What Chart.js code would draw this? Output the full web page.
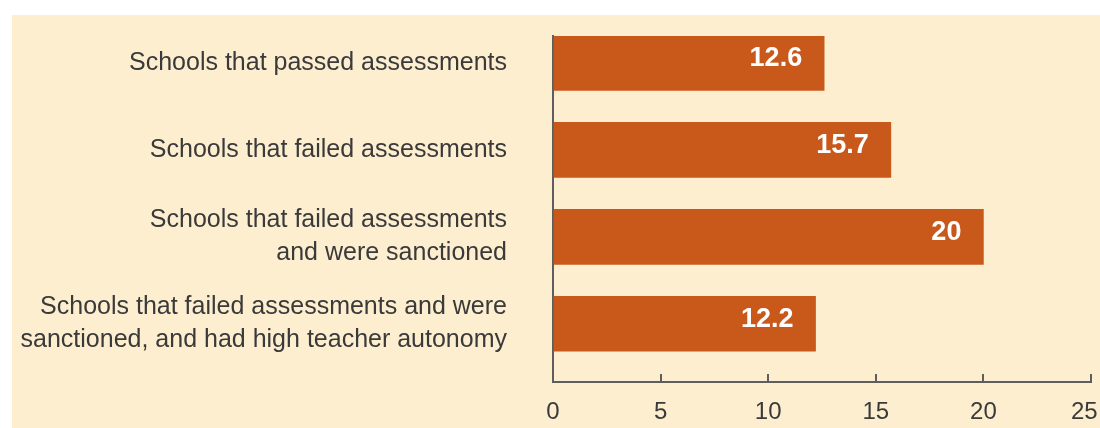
<!DOCTYPE html>
<html>
<head>
<meta charset="utf-8">
<script src="https://cdn.jsdelivr.net/npm/chart.js@4"></script>
<style>
  html, body { margin: 0; padding: 0; background: #ffffff; }
  #wrap { position: absolute; left: 12px; top: 15px; width: 1088px; height: 413px; background: #fdeed0; }
</style>
</head>
<body>
<div id="wrap"><canvas id="bars_chart"></canvas></div>
<script>
var categories = [
    ["Schools that passed assessments"],
    ["Schools that failed assessments"],
    ["Schools that failed assessments", "and were sanctioned"],
    ["Schools that failed assessments and were", "sanctioned, and had high teacher autonomy"]
];
var values = [12.6, 15.7, 20, 12.2];
var valueLabels = ["12.6", "15.7", "20", "12.2"];
var xTicks = [0, 5, 10, 15, 20, 25];

Chart.defaults.font.family = "'Liberation Sans', Arial, sans-serif";
Chart.defaults.color = '#3a3a3a';

// white numbers at the end of each bar
var barValues = {
    id: 'barValues',
    afterDatasetsDraw: function (chart) {
        var ctx = chart.ctx;
        var meta = chart.getDatasetMeta(0);
        ctx.save();
        ctx.fillStyle = '#ffffff';
        ctx.font = "bold 27px 'Liberation Sans', Arial, sans-serif";
        ctx.textAlign = 'right';
        ctx.textBaseline = 'middle';
        meta.data.forEach(function (bar, i) {
            ctx.fillText(valueLabels[i], bar.x - 22, bar.y - 4);
        });
        ctx.restore();
    }
};

var ctx = document.getElementById('bars_chart').getContext('2d');
var barsChart = new Chart(ctx, {
    type: 'bar',
    data: {
        datasets: [{
            data: values.map(function (v, i) { return { x: v, y: i }; }),
            backgroundColor: '#c8591b',
            borderWidth: 0,
            barThickness: 55
        }]
    },
    plugins: [barValues],
    options: {
        indexAxis: 'y',
        responsive: true,
        maintainAspectRatio: false,
        animation: false,
        events: [],
        plugins: {
            legend: { display: false },
            tooltip: { enabled: false },
            title: { display: false }
        },
        layout: {
            padding: { top: 21, right: 9, left: 0, bottom: 0 }
        },
        scales: {
            x: {
                type: 'linear',
                min: 0,
                max: 25,
                afterBuildTicks: function (scale) {
                    scale.ticks = xTicks.map(function (v) { return { value: v }; });
                },
                afterFit: function (scale) {
                    scale.height = 46;
                    scale.paddingLeft = 0;
                    scale.paddingRight = 0;
                },
                border: { display: true, color: '#5e5e5e', width: 2 },
                grid: {
                    display: true,
                    drawOnChartArea: false,
                    drawTicks: true,
                    tickLength: -8,
                    color: '#5e5e5e',
                    lineWidth: 2
                },
                ticks: {
                    font: { size: 24 },
                    color: '#3a3a3a',
                    padding: 24,
                    maxRotation: 0,
                    // last label sits a little inside the right edge
                    callback: function (v) { return v === 25 ? '25  ' : String(v); }
                }
            },
            y: {
                type: 'linear',
                reverse: true,
                offset: false,
                min: -0.31,
                max: 3.67,
                afterBuildTicks: function (scale) {
                    scale.ticks = categories.map(function (c, i) { return { value: i }; });
                },
                afterFit: function (scale) {
                    scale.width = 541;
                    scale.paddingTop = 0;
                    scale.paddingBottom = 0;
                },
                border: { display: true, color: '#5e5e5e', width: 2 },
                grid: { display: false, drawTicks: false, offset: false },
                ticks: {
                    font: { size: 25, lineHeight: 1.32 },
                    color: '#3a3a3a',
                    padding: 46,
                    callback: function (v) { return categories[v]; }
                }
            }
        }
    }
});
</script>
</body>
</html>
